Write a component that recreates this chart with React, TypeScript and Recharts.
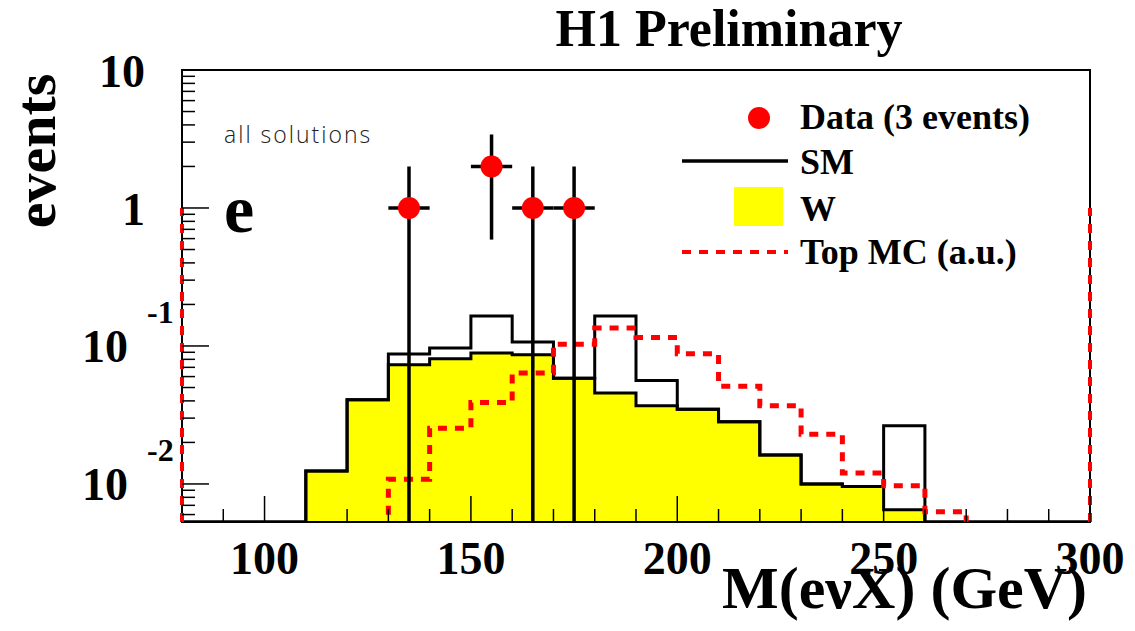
import React from "react";
import {
  ComposedChart,
  Area,
  Line,
  Scatter,
  XAxis,
  YAxis,
  ErrorBar,
  ReferenceLine,
  ReferenceArea,
} from "recharts";

const serif = "'Liberation Serif', 'Times New Roman', serif";

// 10 GeV bins, lower edges
const binLow = [80, 90, 100, 110, 120, 130, 140, 150, 160, 170, 180, 190, 200, 210, 220, 230, 240, 250, 260, 270, 280, 290];
const xMax = 300;
const wBins = [0, 0, 0, 0.0124, 0.0408, 0.0731, 0.0807, 0.0889, 0.0864, 0.0584, 0.0456, 0.0369, 0.0348, 0.0282, 0.0162, 0.0100, 0.0096, 0.0065, 0, 0, 0, 0];
const smBins = [0, 0, 0, 0.0124, 0.0408, 0.0875, 0.0967, 0.165, 0.107, 0.0584, 0.165, 0.0562, 0.0348, 0.0282, 0.0162, 0.0100, 0.0096, 0.0264, 0, 0, 0, 0];
const topBins = [0, 0, 0, 0, 0, 0.0108, 0.0253, 0.039, 0.0636, 0.103, 0.135, 0.115, 0.088, 0.051, 0.0369, 0.0229, 0.012, 0.0097, 0.0063, 0, 0, 0];

// data points (events)
const dataMass = [135, 155, 165, 175];
const dataEvents = [1, 2, 1, 1];
const dataErrUp = [1, 1.41, 1, 1];
const dataErrDown = [1, 1.41, 1, 1];
const dataHalfWidth = [5, 5, 5, 5];

// top MC under/overflow marks at the frame edges
const topEdgeMass = [80, 300];
const topEdgeHeight = 1;

const yFloor = 0.0053;
const yTop = 10;
// empty bins of the dashed curve sit below the frame and get clipped
const yBelow = 0.002;
const yMajor = [0.01, 0.1, 1, 10];
const yMajorBase = ["10", "10", "1", "10"];
const yMajorExp = ["-2", "-1", "", ""];
const yMinor = [
  0.006, 0.007, 0.008, 0.009,
  0.02, 0.03, 0.04, 0.05, 0.06, 0.07, 0.08, 0.09,
  0.2, 0.3, 0.4, 0.5, 0.6, 0.7, 0.8, 0.9,
  2, 3, 4, 5, 6, 7, 8, 9,
];
const xMajor = [100, 150, 200, 250, 300];
const xMinor = [90, 110, 120, 130, 140, 160, 170, 180, 190, 210, 220, 230, 240, 260, 270, 280, 290];

const histData = [...binLow, xMax].map((x, i) => ({
  x,
  w: Math.max(wBins[i] ?? 0, yFloor),
  sm: Math.max(smBins[i] ?? 0, yFloor),
  top: topBins[i] ? topBins[i] : yBelow,
}));

const pointData = dataMass.map((m, i) => ({
  x: m,
  y: dataEvents[i],
  ey: [Math.min(dataErrDown[i], dataEvents[i] - yFloor), dataErrUp[i]],
  ex: dataHalfWidth[i],
}));

const XTick = (props: any) => {
  const { x, y, payload } = props;
  const major = xMajor.includes(payload.value);
  return (
    <g>
      <line x1={x} x2={x} y1={y} y2={y - (major ? 26 : 13)} stroke="#000" strokeWidth={1.5} />
      {major && (
        <text x={x} y={y + 52} textAnchor="middle" fontFamily={serif} fontWeight="bold" fontSize={46} fill="#000">
          {payload.value}
        </text>
      )}
    </g>
  );
};

const YTick = (props: any) => {
  const { x, y, payload } = props;
  const idx = yMajor.findIndex((v) => Math.abs(v - payload.value) < v * 1e-6);
  const major = idx >= 0;
  return (
    <g>
      <line x1={x} x2={x + (major ? 27 : 13)} y1={y} y2={y} stroke="#000" strokeWidth={1.5} />
      {major && yMajorExp[idx] === "" && (
        <text x={x - 37} y={y + 17} textAnchor="end" fontFamily={serif} fontWeight="bold" fontSize={46} fill="#000">
          {yMajorBase[idx]}
        </text>
      )}
      {major && yMajorExp[idx] !== "" && (
        <g>
          <text x={x - 54} y={y + 16} textAnchor="end" fontFamily={serif} fontWeight="bold" fontSize={46} fill="#000">
            {yMajorBase[idx]}
          </text>
          <text x={x - 35} y={y - 23} textAnchor="start" fontFamily={serif} fontWeight="bold" fontSize={32} fill="#000">
            {yMajorExp[idx]}
          </text>
        </g>
      )}
    </g>
  );
};

export default function App() {
  return (
    <div style={{ position: "absolute", left: 0, top: 0, width: 1135, height: 631, background: "#fff" }}>
      <ComposedChart
        width={1135}
        height={631}
        data={histData}
        margin={{ top: 70, right: 45, bottom: 0, left: 0 }}
      >
        <XAxis
          type="number"
          dataKey="x"
          domain={[80, 300]}
          allowDataOverflow
          ticks={[...xMinor, ...xMajor].sort((a, b) => a - b)}
          interval={0}
          tickSize={0}
          tickMargin={0}
          axisLine={false}
          tickLine={false}
          tick={(p: any) => <XTick {...p} />}
          height={109}
        />
        <YAxis
          type="number"
          scale="log"
          domain={[yFloor, yTop]}
          allowDataOverflow
          ticks={[...yMinor, ...yMajor].sort((a, b) => a - b)}
          interval={0}
          tickSize={0}
          tickMargin={0}
          axisLine={false}
          tickLine={false}
          tick={(p: any) => <YTick {...p} />}
          width={182}
        />

        <Area
          type="stepAfter"
          dataKey="w"
          baseValue={yFloor}
          fill="#ffff00"
          fillOpacity={1}
          stroke="#000"
          strokeWidth={3}
          dot={false}
          activeDot={false}
          isAnimationActive={false}
        />
        <Line
          type="stepAfter"
          dataKey="sm"
          stroke="#000"
          strokeWidth={3}
          dot={false}
          activeDot={false}
          isAnimationActive={false}
        />
        <Line
          type="stepAfter"
          dataKey="top"
          stroke="#ff0000"
          strokeWidth={5}
          strokeDasharray="9 8"
          dot={false}
          activeDot={false}
          isAnimationActive={false}
        />

        <ReferenceArea
          x1={80}
          x2={300}
          y1={yFloor}
          y2={yTop}
          fill="none"
          fillOpacity={0}
          stroke="#000"
          strokeWidth={2}
          ifOverflow="visible"
        />
        {topEdgeMass.map((m) => (
          <ReferenceLine
            key={m}
            segment={[{ x: m, y: yFloor }, { x: m, y: topEdgeHeight }]}
            stroke="#ff0000"
            strokeWidth={4}
            strokeDasharray="9 8"
            ifOverflow="visible"
          />
        ))}

        <Scatter
          data={pointData}
          dataKey="y"
          isAnimationActive={false}
          shape={(p: any) => <circle cx={p.cx} cy={p.cy} r={11} fill="#ff0000" />}
        >
          <ErrorBar dataKey="ey" direction="y" width={0} stroke="#000" strokeWidth={3.5} />
          <ErrorBar dataKey="ex" direction="x" width={0} stroke="#000" strokeWidth={3.5} />
        </Scatter>
      </ComposedChart>

      <svg width={1135} height={631} style={{ position: "absolute", left: 0, top: 0, pointerEvents: "none" }}>
        <text x={729} y={46} textAnchor="middle" fontFamily={serif} fontWeight="bold" fontSize={52}>
          H1 Preliminary
        </text>
        <text
          transform="translate(55,151) rotate(-90)"
          textAnchor="middle"
          fontFamily={serif}
          fontWeight="bold"
          fontSize={58}
        >
          events
        </text>
        <text x={1087} y={608} textAnchor="end" fontFamily={serif} fontWeight="bold" fontSize={60}>
          M(eνX) (GeV)
        </text>
        <text x={224} y={143} fontFamily="'Open Sans', sans-serif" fontWeight={300} fontSize={23} fill="#222" letterSpacing={2}>
          all solutions
        </text>
        <text x={224} y={232} fontFamily={serif} fontWeight="bold" fontSize={68}>
          e
        </text>

        {/* legend */}
        <circle cx={759} cy={118} r={11} fill="#ff0000" />
        <text x={800} y={129} fontFamily={serif} fontWeight="bold" fontSize={36}>
          Data (3 events)
        </text>
        <line x1={682} x2={788} y1={161} y2={161} stroke="#000" strokeWidth={3.5} />
        <text x={800} y={174} fontFamily={serif} fontWeight="bold" fontSize={36}>
          SM
        </text>
        <rect x={734} y={187} width={49} height={39} fill="#ffff00" />
        <text x={800} y={221} fontFamily={serif} fontWeight="bold" fontSize={36}>
          W
        </text>
        <line x1={682} x2={788} y1={252} y2={252} stroke="#ff0000" strokeWidth={4} strokeDasharray="9 8" />
        <text x={800} y={264} fontFamily={serif} fontWeight="bold" fontSize={36}>
          Top MC (a.u.)
        </text>
      </svg>
    </div>
  );
}
